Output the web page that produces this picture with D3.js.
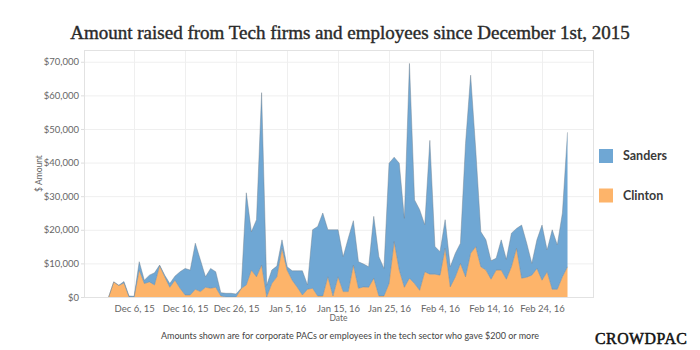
<!DOCTYPE html>
<html>
<head>
<meta charset="utf-8">
<script src="https://cdn.jsdelivr.net/npm/d3@7"></script>
<style>
  body { margin: 0; background: #fff; }
  svg { display: block; }
  .axis-text { font-family: Lato, "Open Sans", sans-serif; font-size: 9.5px; fill: #666; }
</style>
</head>
<body>
<svg id="chart"></svg>
<script>
// daily amounts, Dec 1 2015 .. Feb 29 2016
const startDay = new Date(2015, 11, 1);
const endDay = new Date(2016, 2, 1);
const days = d3.timeDay.range(startDay, endDay);

const clinton = [0,4500,3400,4200,0,0,8000,4000,4500,3600,
  9300,6000,2900,5000,2600,600,600,2300,1600,2900,
  2600,2900,300,0,0,0,2500,3600,8000,6000,
  9500,0,4000,6000,14500,8000,5000,2900,600,2300,
  2600,300,300,6000,300,6000,1600,1600,9500,2600,
  3000,2900,5600,300,300,4000,16500,8000,2900,5600,
  4000,2000,7500,6800,6800,6500,14500,3000,6000,10000,
  6000,13000,15000,9000,8000,5300,8000,8000,5300,9000,
  14500,5600,5900,6500,8500,5000,7500,2300,2300,6000,
  9000];

const sanders = [0,0,100,400,300,200,2500,1000,2000,3600,
  200,500,1100,1200,4900,7900,7400,13700,9400,3100,
  5900,4600,1000,1100,1100,900,100,27400,11400,17000,
  51300,3500,4000,3200,2500,1000,2800,4900,7200,1300,
  17400,20700,24700,14000,19700,14000,10400,15900,13200,7900,
  6800,6100,18400,11700,8200,35800,25100,31800,20500,63900,
  24900,24000,14000,39800,8200,7000,8500,6000,7000,6000,
  39700,53000,28800,10400,9000,5500,3500,9000,5900,10000,
  5900,15800,10100,3500,8500,16400,6500,17700,13200,19000,
  40000];

const yTicks = [0, 10000, 20000, 30000, 40000, 50000, 60000, 70000];
const xTicks = [new Date(2015,11,6), new Date(2015,11,16), new Date(2015,11,26),
  new Date(2016,0,5), new Date(2016,0,15), new Date(2016,0,25),
  new Date(2016,1,4), new Date(2016,1,14), new Date(2016,1,24)];

const seriesNames = ["Sanders", "Clinton"];
const colors = { Sanders: "#6fa7d4", Clinton: "#fdb46a" };

const W = 700, H = 350;
const plot = { left: 84, right: 593, top: 50, bottom: 297 };

const svg = d3.select("#chart").attr("width", W).attr("height", H);

const rows = days.map((d, i) => ({ date: d, Clinton: clinton[i], Sanders: sanders[i] }));

const x = d3.scaleTime()
    .domain([new Date(2015, 10, 26, 4), new Date(2016, 2, 5)])
    .range([plot.left, plot.right]);

const y = d3.scaleLinear()
    .domain([0, 73500])
    .range([plot.bottom, plot.top]);

// size a text so it spans the wanted width
function fitWidth(sel, target, base) {
    const w = sel.node().getComputedTextLength();
    sel.style("font-size", (base * target / w).toFixed(2) + "px");
}

// title
const title = svg.append("text")
   .attr("x", W / 2)
   .attr("y", 39)
   .attr("text-anchor", "middle")
   .style("font-family", "'Liberation Serif', serif")
   .style("font-size", "20px")
   .style("fill", "#2a2a2a")
   .style("stroke", "#2a2a2a")
   .style("stroke-width", "0.4px")
   .text("Amount raised from Tech firms and employees since December 1st, 2015");
fitWidth(title, 560, 20);

// gridlines
const grid = svg.append("g");
grid.selectAll(".hg").data(yTicks).enter().append("line")
    .attr("x1", plot.left).attr("x2", plot.right)
    .attr("y1", d => y(d) + 0.5).attr("y2", d => y(d) + 0.5)
    .attr("stroke", "#efefef");
grid.selectAll(".vg").data(xTicks).enter().append("line")
    .attr("y1", plot.top).attr("y2", plot.bottom)
    .attr("x1", d => Math.round(x(d)) + 0.5).attr("x2", d => Math.round(x(d)) + 0.5)
    .attr("stroke", "#efefef");

// stacked areas
const stack = d3.stack().keys(["Clinton", "Sanders"]);
const layers = stack(rows);

const area = d3.area()
    .x(d => x(d.data.date))
    .y0(d => y(d[0]))
    .y1(d => y(d[1]));

const topLine = d3.line()
    .x(d => x(d.data.date))
    .y(d => y(d[1]));

svg.append("g").selectAll("path")
   .data(layers)
   .enter().append("path")
   .attr("d", area)
   .attr("fill", d => colors[d.key]);

svg.append("g").selectAll("path")
   .data(layers)
   .enter().append("path")
   .attr("d", topLine)
   .attr("fill", "none")
   .attr("stroke", "#6f7f8c")
   .attr("stroke-opacity", 0.55)
   .attr("stroke-width", 0.8);

// frame
svg.append("rect")
   .attr("x", plot.left + 0.5).attr("y", plot.top + 0.5)
   .attr("width", plot.right - plot.left).attr("height", plot.bottom - plot.top)
   .attr("fill", "none")
   .attr("stroke", "#e2e2e2");

// y axis
const yAxis = svg.append("g")
    .attr("transform", `translate(${plot.left}, 0)`)
    .call(d3.axisLeft(y).tickValues(yTicks).tickSize(3).tickPadding(2)
          .tickFormat(d => "$" + d3.format(",")(d)));
yAxis.select(".domain").remove();
yAxis.selectAll("line").attr("stroke", "#ddd");
yAxis.selectAll("text").attr("class", "axis-text").attr("fill", null);

// x axis
const xAxis = svg.append("g")
    .attr("transform", `translate(0, ${plot.bottom})`)
    .call(d3.axisBottom(x).tickValues(xTicks).tickSize(0).tickPadding(8)
          .tickFormat(d3.timeFormat("%b %-d, %y")));
xAxis.select(".domain").remove();
xAxis.selectAll("text").attr("class", "axis-text").attr("fill", null);

svg.append("text")
   .attr("x", (plot.left + plot.right) / 2)
   .attr("y", 321)
   .attr("text-anchor", "middle")
   .attr("class", "axis-text")
   .style("font-size", "8.5px")
   .text("Date");

svg.append("text")
   .attr("transform", `translate(42, ${(plot.top + plot.bottom) / 2}) rotate(-90)`)
   .attr("text-anchor", "middle")
   .attr("class", "axis-text")
   .style("font-size", "8.5px")
   .text("$ Amount");

// legend
const legend = svg.append("g").attr("transform", "translate(599, 149)");
seriesNames.forEach((name, i) => {
    const row = legend.append("g").attr("transform", `translate(0, ${i * 39.5})`);
    row.append("rect")
       .attr("width", 14).attr("height", 14)
       .attr("fill", colors[name]);
    row.append("text")
       .attr("x", 24).attr("y", 11)
       .style("font-family", "Lato, sans-serif")
       .style("font-weight", "700")
       .style("font-size", "12.5px")
       .style("fill", "#3a3a3a")
       .text(name);
});

// footnote
svg.append("text")
   .attr("x", 350)
   .attr("y", 339)
   .attr("text-anchor", "middle")
   .style("font-family", "Lato, sans-serif")
   .style("font-size", "9px")
   .style("fill", "#444")
   .text("Amounts shown are for corporate PACs or employees in the tech sector who gave $200 or more");

const brand = svg.append("text")
   .attr("x", 595)
   .attr("y", 344)
   .style("font-family", "'Liberation Serif', serif")
   .style("font-size", "18px")
   .style("fill", "#111")
   .style("stroke", "#111")
   .style("stroke-width", "0.5px")
   .style("letter-spacing", "0.5px")
   .text("CROWDPAC");
fitWidth(brand, 92, 18);
</script>
</body>
</html>
